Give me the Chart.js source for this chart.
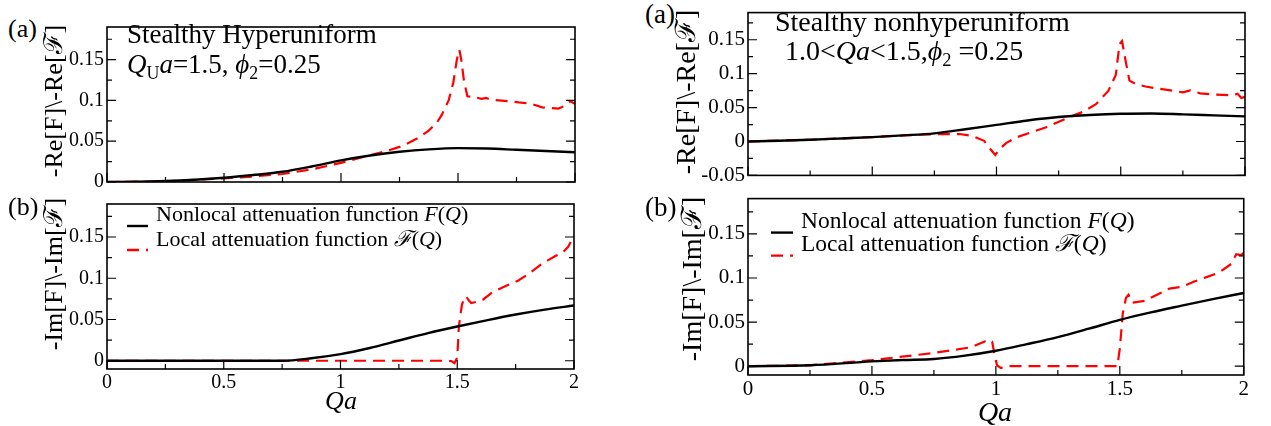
<!DOCTYPE html>
<html>
<head>
<meta charset="utf-8">
<script src="https://cdn.jsdelivr.net/npm/chart.js@4.4.0/dist/chart.umd.min.js"></script>
<style>
  body { margin: 0; background: #fff; width: 1271px; height: 426px; position: relative; overflow: hidden;
         font-family: "Liberation Serif", "DejaVu Serif", "Times New Roman", serif; color: #000; }
  canvas { position: absolute; }
  .t { position: absolute; white-space: nowrap; line-height: 1; transform: translateY(-50%); }
  .c { position: absolute; white-space: nowrap; line-height: 1; transform: translate(-50%, -50%); }
  .yt { position: absolute; white-space: nowrap; line-height: 1; transform: translate(-50%, -50%) rotate(-90deg); }
  sub { font-size: 0.66em; vertical-align: -0.35em; line-height: 0; }
  i { font-style: italic; }
</style>
</head>
<body>
<canvas id="la"></canvas>
<canvas id="lb"></canvas>
<canvas id="ra"></canvas>
<canvas id="rb"></canvas>

<!-- left figure -->
<div class="t" style="left:8px;top:29px;font-size:26px">(a)</div>
<div class="t" style="left:8px;top:207px;font-size:26px">(b)</div>
<div class="yt" style="left:54px;top:101px;font-size:26px">-Re[F]\-Re[ℱ]</div>
<div class="yt" style="left:54px;top:274px;font-size:26px">-Im[F]\-Im[ℱ]</div>
<div class="t" style="left:127px;top:34px;font-size:27px">Stealthy Hyperuniform</div>
<div class="t" style="left:127px;top:64px;font-size:27px"><i>Q</i><sub>U</sub><i>a</i>=1.5, <i>ϕ</i><sub>2</sub>=0.25</div>
<div class="t" style="left:156px;top:214px;font-size:22px">Nonlocal attenuation function <i>F</i>(<i>Q</i>)</div>
<div class="t" style="left:156px;top:239px;font-size:22px">Local attenuation function <i>ℱ</i>(<i>Q</i>)</div>
<div class="c" style="left:341px;top:401px;font-size:26px"><i>Qa</i></div>

<!-- right figure -->
<div class="t" style="left:645px;top:14px;font-size:27px">(a)</div>
<div class="t" style="left:645px;top:207px;font-size:27px">(b)</div>
<div class="yt" style="left:686px;top:92px;font-size:28px">-Re[F]\-Re[ℱ]</div>
<div class="yt" style="left:692px;top:279px;font-size:28px">-Im[F]\-Im[ℱ]</div>
<div class="t" style="left:775px;top:22px;font-size:28px">Stealthy nonhyperuniform</div>
<div class="t" style="left:785px;top:51px;font-size:28px">1.0&lt;<i>Qa</i>&lt;1.5,<i>ϕ</i><sub>2</sub> =0.25</div>
<div class="t" style="left:801px;top:221px;font-size:23.5px">Nonlocal attenuation function <i>F</i>(<i>Q</i>)</div>
<div class="t" style="left:801px;top:244px;font-size:23.5px">Local attenuation function <i>ℱ</i>(<i>Q</i>)</div>
<div class="c" style="left:995px;top:412px;font-size:28px"><i>Qa</i></div>

<script>
// tick positions
const xMajor = [0, 0.5, 1, 1.5, 2];
const xMinor = [0.25, 0.75, 1.25, 1.75];
const yMajorA = [0, 0.05, 0.1, 0.15];
const yMajorNeg = [-0.05, 0, 0.05, 0.1, 0.15];
const yMinorA = [0.025, 0.075, 0.125, 0.175];
const yMinorNeg = [-0.025, 0.025, 0.075, 0.125, 0.175];

// stealthy hyperuniform, real part
const huReBlackX = [0, 0.125, 0.25, 0.375, 0.5, 0.625, 0.75, 0.875, 1.0, 1.125, 1.25, 1.375, 1.5, 1.625, 1.75, 1.875, 2.0];
const huReBlack = [0, 0.0003, 0.0012, 0.0028, 0.0052, 0.0085, 0.0125, 0.019, 0.0265, 0.0325, 0.037, 0.040, 0.0415, 0.041, 0.0395, 0.038, 0.0365];
const huReRedX = [0, 0.25, 0.5, 0.625, 0.75, 0.875, 1.0, 1.125, 1.2, 1.25, 1.29, 1.33, 1.375, 1.41, 1.43, 1.46, 1.48, 1.495, 1.506, 1.515,
                  1.525, 1.54, 1.57, 1.6, 1.62, 1.64, 1.72, 1.76, 1.81, 1.86, 1.93, 1.96, 1.98, 2.0];
const huReRed = [0, 0.0008, 0.0045, 0.0068, 0.0098, 0.0155, 0.0235, 0.033, 0.0385, 0.043, 0.048, 0.054, 0.063, 0.073, 0.082, 0.100, 0.122, 0.150, 0.162, 0.148,
                 0.125, 0.105, 0.104, 0.102, 0.103, 0.101, 0.099, 0.0975, 0.096, 0.0915, 0.090, 0.094, 0.099, 0.096];

// stealthy hyperuniform, imaginary part
const huImBlackX = [0, 0.25, 0.5, 0.75, 0.875, 1.0, 1.125, 1.25, 1.375, 1.5, 1.625, 1.75, 1.875, 2.0];
const huImBlack = [0, 0, 0, 0, 0.003, 0.008, 0.0155, 0.0245, 0.0335, 0.0415, 0.049, 0.056, 0.062, 0.067];
const huImRedX = [0, 1.45, 1.475, 1.488, 1.5, 1.507, 1.52, 1.531, 1.538, 1.55, 1.56, 1.585, 1.61, 1.65, 1.71, 1.76, 1.81, 1.86, 1.89, 1.92,
                  1.95, 1.975, 2.0];
const huImRed = [0, 0, -0.0005, -0.003, 0.004, 0.042, 0.068, 0.076, 0.078, 0.073, 0.070, 0.0715, 0.074, 0.083, 0.091, 0.097, 0.106, 0.117, 0.122, 0.127,
                 0.131, 0.138, 0.152];

// stealthy nonhyperuniform, real part
const nhReBlackX = [0, 0.125, 0.25, 0.375, 0.5, 0.625, 0.75, 0.875, 1.0, 1.125, 1.25, 1.375, 1.5, 1.625, 1.75, 1.875, 2.0];
const nhReBlack = [0, 0.001, 0.0025, 0.0045, 0.0065, 0.009, 0.012, 0.018, 0.0245, 0.031, 0.036, 0.039, 0.0408, 0.0412, 0.040, 0.0385, 0.037];
const nhReRedX = [0, 0.25, 0.5, 0.625, 0.75, 0.85, 0.9, 0.95, 0.975, 0.995, 1.015, 1.04, 1.08, 1.2, 1.3, 1.35, 1.4, 1.45, 1.48, 1.495,
                  1.505, 1.52, 1.535, 1.56, 1.6, 1.65, 1.7, 1.75, 1.78, 1.82, 1.88, 1.95, 1.97, 1.985, 2.0];
const nhReRed = [0, 0.0025, 0.0065, 0.009, 0.0108, 0.011, 0.0085, 0.001, -0.011, -0.020, -0.010, -0.002, 0.006, 0.021, 0.037, 0.044, 0.055, 0.0746, 0.098, 0.1435,
                 0.148, 0.118, 0.0897, 0.085, 0.081, 0.078, 0.0754, 0.0724, 0.0754, 0.071, 0.069, 0.068, 0.0703, 0.064, 0.066];

// stealthy nonhyperuniform, imaginary part
const nhImBlackX = [0, 0.25, 0.5, 0.625, 0.75, 0.875, 1.0, 1.125, 1.25, 1.375, 1.5, 1.625, 1.75, 1.875, 2.0];
const nhImBlack = [0, 0.001, 0.0054, 0.007, 0.0082, 0.012, 0.0175, 0.025, 0.033, 0.0425, 0.0525, 0.061, 0.0686, 0.076, 0.083];
const nhImRedX = [0, 0.25, 0.5, 0.75, 0.9, 0.95, 0.97, 0.985, 0.995, 1.005, 1.02, 1.05, 1.49, 1.5, 1.512, 1.525, 1.535, 1.55, 1.6, 1.65,
                  1.7, 1.75, 1.8, 1.85, 1.9, 1.95, 1.97, 1.99, 2.0];
const nhImRed = [0, 0.001, 0.0068, 0.015, 0.0214, 0.0275, 0.030, 0.028, 0.012, 0.001, -0.002, 0, 0, 0.02, 0.06, 0.0775, 0.081, 0.072, 0.074, 0.081,
                 0.088, 0.09, 0.096, 0.101, 0.106, 0.116, 0.127, 0.126, 0.129];

const FONT = 'Liberation Serif';
const RED_DASH = [12, 7];
Chart.defaults.font.family = FONT;
Chart.defaults.color = '#000';

function pts(xs, ys) {
    return xs.map((x, i) => ({ x: x, y: ys[i] }));
}

// frame box, inward ticks and legend samples, xmgrace style
const framePlugin = {
    id: 'frame',
    afterDatasetsDraw(chart, args, opts) {
        const ctx = chart.ctx;
        const a = chart.chartArea;
        const xs = chart.scales.x;
        const ys = chart.scales.y;
        ctx.save();
        ctx.strokeStyle = '#000';
        ctx.lineWidth = 1.2;
        ctx.beginPath();
        xMajor.forEach(v => { const p = xs.getPixelForValue(v); ctx.moveTo(p, a.bottom); ctx.lineTo(p, a.bottom - 9); });
        xMinor.forEach(v => { const p = xs.getPixelForValue(v); ctx.moveTo(p, a.bottom); ctx.lineTo(p, a.bottom - 5); });
        opts.yMajor.forEach(v => {
            const p = ys.getPixelForValue(v);
            ctx.moveTo(a.left, p); ctx.lineTo(a.left + 9, p);
            ctx.moveTo(a.right, p); ctx.lineTo(a.right - 9, p);
        });
        opts.yMinor.forEach(v => {
            const p = ys.getPixelForValue(v);
            ctx.moveTo(a.left, p); ctx.lineTo(a.left + 5, p);
            ctx.moveTo(a.right, p); ctx.lineTo(a.right - 5, p);
        });
        ctx.stroke();
        ctx.lineWidth = 1.6;
        ctx.strokeRect(a.left, a.top, a.right - a.left, a.bottom - a.top);

        if (opts.legend) {
            const lg = opts.legend;
            ctx.lineWidth = 2.4;
            ctx.beginPath();
            ctx.moveTo(a.left + lg.x0, a.top + lg.y1);
            ctx.lineTo(a.left + lg.x1, a.top + lg.y1);
            ctx.stroke();
            ctx.strokeStyle = '#ff0000';
            ctx.setLineDash(RED_DASH);
            ctx.beginPath();
            ctx.moveTo(a.left + lg.x0, a.top + lg.y2);
            ctx.lineTo(a.left + lg.x1, a.top + lg.y2);
            ctx.stroke();
        }
        ctx.restore();
    }
};

function makePanel(id, rect, yMin, yMax, yMajor, yMinor, showX, fontSize, blackX, blackY, redX, redY, legend) {
    const padL = 60, padR = 6, padT = 4;
    const xH = showX ? 40 : 4;
    const canvas = document.getElementById(id);
    const w = rect.r - rect.l + padL + padR;
    const h = rect.b - rect.t + padT + xH;
    canvas.width = w;
    canvas.height = h;
    canvas.style.left = (rect.l - padL) + 'px';
    canvas.style.top = (rect.t - padT) + 'px';

    return new Chart(canvas.getContext('2d'), {
        type: 'line',
        data: {
            datasets: [
                {
                    data: pts(blackX, blackY),
                    borderColor: '#000',
                    borderWidth: 2.4,
                    pointRadius: 0,
                    cubicInterpolationMode: 'monotone'
                },
                {
                    data: pts(redX, redY),
                    borderColor: '#ff0000',
                    borderWidth: 2.2,
                    borderDash: RED_DASH,
                    pointRadius: 0,
                    tension: 0
                }
            ]
        },
        options: {
            responsive: false,
            animation: false,
            events: [],
            layout: { padding: { left: 0, right: padR, top: padT, bottom: 0 } },
            plugins: {
                legend: { display: false },
                tooltip: { enabled: false },
                frame: { yMajor: yMajor, yMinor: yMinor, legend: legend }
            },
            scales: {
                x: {
                    type: 'linear',
                    min: 0,
                    max: 2,
                    grid: { display: false, drawTicks: false },
                    border: { display: false },
                    ticks: {
                        display: showX,
                        autoSkip: false,
                        maxRotation: 0,
                        padding: 2,
                        color: '#000',
                        font: { family: FONT, size: fontSize },
                        callback: v => String(v)
                    },
                    afterBuildTicks: s => { s.ticks = xMajor.map(v => ({ value: v })); },
                    afterFit: s => { s.height = xH; }
                },
                y: {
                    type: 'linear',
                    min: yMin,
                    max: yMax,
                    grid: { display: false, drawTicks: false },
                    border: { display: false },
                    ticks: {
                        autoSkip: false,
                        padding: 3,
                        color: '#000',
                        font: { family: FONT, size: fontSize },
                        callback: v => String(v)
                    },
                    afterBuildTicks: s => { s.ticks = yMajor.map(v => ({ value: v })); },
                    afterFit: s => { s.width = padL; }
                }
            }
        },
        plugins: [framePlugin]
    });
}

makePanel('la', { l: 107, t: 16, r: 575, b: 193 }, 0, 0.19, yMajorA, yMinorA, false, 20,
          huReBlackX, huReBlack, huReRedX, huReRed, null);
makePanel('lb', { l: 107, t: 193, r: 575, b: 369 }, -0.01, 0.19, yMajorA, yMinorA, true, 20,
          huImBlackX, huImBlack, huImRedX, huImRed, { x0: 20, x1: 41, y1: 22, y2: 46 });
makePanel('ra', { l: 748, t: 1, r: 1245, b: 187 }, -0.05, 0.19, yMajorNeg, yMinorNeg, false, 21,
          nhReBlackX, nhReBlack, nhReRedX, nhReRed, null);
makePanel('rb', { l: 748, t: 187, r: 1245, b: 375 }, -0.01, 0.19, yMajorA, yMinorA, true, 21,
          nhImBlackX, nhImBlack, nhImRedX, nhImRed, { x0: 23, x1: 45, y1: 34, y2: 57 });
</script>
</body>
</html>
